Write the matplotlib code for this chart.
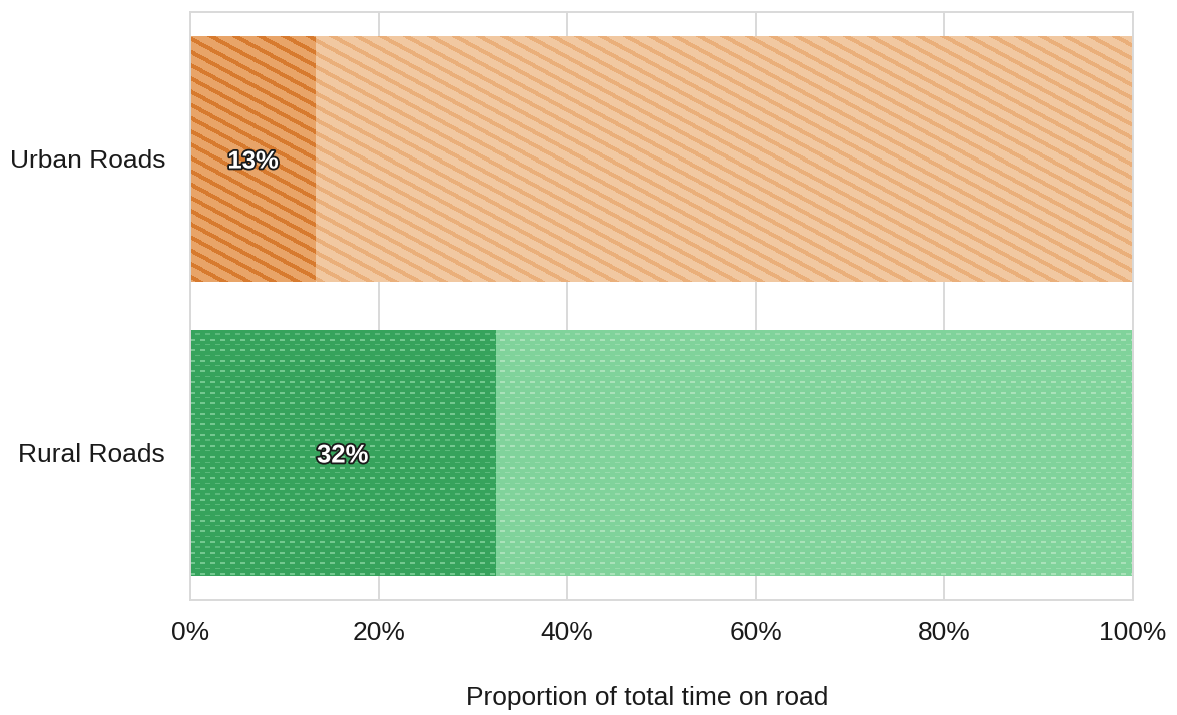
import numpy as np
import matplotlib
matplotlib.use("Agg")
import matplotlib.pyplot as plt
import matplotlib.patheffects as pe

# Share of time on each road type (percent) and the remainder of the bar
categories = ["Urban Roads", "Rural Roads"]
share_pct = [13.4, 32.4]
rest_pct = [86.6, 67.6]
x_ticks = [0, 20, 40, 60, 80, 100]
x_tick_labels = ["0%", "20%", "40%", "60%", "80%", "100%"]
x_title = "Proportion of total time on road"

plt.rcParams["font.family"] = ["Liberation Sans", "DejaVu Sans"]

FIG_W, FIG_H, DPI = 1177, 715, 100
fig = plt.figure(figsize=(FIG_W / DPI, FIG_H / DPI), dpi=DPI)
ax = fig.add_axes([190 / FIG_W, 1 - 600 / FIG_H, (1133 - 190) / FIG_W, (600 - 12) / FIG_H])


def hexrgb(h):
    h = h.lstrip("#")
    return np.array([int(h[i:i + 2], 16) / 255 for i in (0, 2, 4)])


# colour pairs per segment: (base fill, pattern ink)
styles = {
    "Urban Roads": {
        "kind": "stripes",
        "dark": ("#E8A468", "#D77A2E"),
        "light": ("#F1C8A1", "#EAAF7A"),
    },
    "Rural Roads": {
        "kind": "dashes",
        "dark": ("#36A35C", "#74C890"),
        "light": ("#80D39B", "#AAE2BA"),
    },
}


def texture(kind, base, ink, px, py):
    """RGB tile computed in absolute figure pixel coordinates."""
    b, k = hexrgb(base), hexrgb(ink)
    if kind == "stripes":
        phase = np.mod(py - 0.54 * px, 13.2)
        mask = (phase < 4.6).astype(float)
    else:
        ry = np.mod(py, 10.6)
        strong = (ry < 2) & (np.mod(px, 10) < 5)
        faint = (ry >= 5.3) & (ry < 6.6) & (np.mod(px + 5, 10) < 5)
        mask = strong * 1.0 + faint * 0.6
    return b[None, None, :] * (1 - mask[..., None]) + k[None, None, :] * mask[..., None]


ypos = np.arange(len(categories))[::-1]
bar_h = 0.837
ax.set_xlim(0, 100)
ax.set_ylim(-0.5, 1.5)

segments = []
for i, cat in enumerate(categories):
    st = styles[cat]
    b1 = ax.barh(ypos[i], share_pct[i], height=bar_h, left=0,
                 color=st["dark"][0], linewidth=0, zorder=2)[0]
    b2 = ax.barh(ypos[i], rest_pct[i], height=bar_h, left=share_pct[i],
                 color=st["light"][0], linewidth=0, zorder=2)[0]
    segments.append((b1, st["kind"], st["dark"]))
    segments.append((b2, st["kind"], st["light"]))

# pattern fill for every bar segment, clipped to the bar outline
for bar, kind, (base, ink) in segments:
    x0, y0 = bar.get_x(), bar.get_y()
    x1, y1 = x0 + bar.get_width(), y0 + bar.get_height()
    (dx0, dy0), (dx1, dy1) = ax.transData.transform([(x0, y0), (x1, y1)])
    cols = int(round(dx1 - dx0))
    rows = int(round(dy1 - dy0))
    px = np.round(dx0) + np.arange(cols)[None, :]
    py = np.round(FIG_H - dy1) + np.arange(rows)[:, None]
    px = np.broadcast_to(px, (rows, cols))
    py = np.broadcast_to(py, (rows, cols))
    img = texture(kind, base, ink, px, py)
    im = ax.imshow(img, extent=(x0, x1, y0, y1), origin="upper",
                   interpolation="nearest", aspect="auto", zorder=2.5)
    im.set_clip_path(bar)

ax.set_xlim(0, 100)
ax.set_ylim(-0.5, 1.5)

# value labels centred in the highlighted segment
for i, cat in enumerate(categories):
    ax.text(share_pct[i] / 2, ypos[i], f"{share_pct[i]:.0f}%",
            ha="center", va="center_baseline", color="white", fontsize=18.5,
            fontweight="bold", zorder=5,
            path_effects=[pe.withStroke(linewidth=2.6, foreground="#1a1a1a")])

ax.set_yticks(ypos)
ax.set_yticklabels(categories)
ax.set_xticks(x_ticks)
ax.set_xticklabels(x_tick_labels)
ax.tick_params(axis="both", length=0, labelsize=19, colors="#1a1a1a")
ax.tick_params(axis="y", pad=18)
ax.tick_params(axis="x", pad=15)
ax.set_xlabel(x_title, fontsize=19, color="#1a1a1a")
ax.xaxis.set_label_coords((647 - 190) / (1133 - 190), -(698 - 600) / (600 - 12))
ax.xaxis.label.set_va("center")

ax.set_axisbelow(True)
ax.grid(axis="x", color="#d9d9d9", linewidth=1.4, zorder=0)
ax.grid(axis="y", visible=False)
for sp in ax.spines.values():
    sp.set_color("#d9d9d9")
    sp.set_linewidth(1.4)

fig.savefig("out.png", dpi=DPI)
